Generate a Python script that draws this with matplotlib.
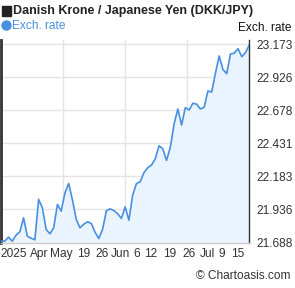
import matplotlib
matplotlib.use('Agg')
import matplotlib.pyplot as plt
import matplotlib.patches as mpatches
import numpy as np

plt.rcParams['font.family'] = ['Liberation Sans', 'DejaVu Sans']

# DKK/JPY daily closes, ~3 months
rates = [21.698, 21.698, 21.728, 21.698, 21.743, 21.768, 21.873, 21.735, 21.720, 21.708,
         22.011, 21.948, 21.786, 21.753, 21.798, 21.973, 21.923, 22.060, 22.130, 22.005,
         21.861, 21.798, 21.825, 21.843, 21.831, 21.765, 21.718, 21.786, 21.925, 21.940,
         21.927, 21.904, 21.868, 21.955, 21.855, 22.043, 22.129, 22.143, 22.212, 22.248,
         22.268, 22.315, 22.413, 22.389, 22.303, 22.399, 22.575, 22.688, 22.568, 22.699,
         22.680, 22.731, 22.724, 22.688, 22.701, 22.823, 22.815, 22.956, 23.085, 22.983,
         22.953, 23.100, 23.106, 23.140, 23.080, 23.110, 23.168]
days = np.arange(len(rates))

ytick_vals = [21.688, 21.936, 22.183, 22.431, 22.678, 22.926, 23.173]
xtick_pos = [3.5, 10.15, 15.9, 22.0, 26.85, 31.7, 35.97, 39.7, 44.85, 49.9, 54.9, 58.7, 62.9]
xtick_labels = ['2025', 'Apr', 'May', '19', '26', 'Jun', '6', '12', '19', '26', 'Jul', '9', '15']

W, H = 295, 288
fig = plt.figure(figsize=(W / 100, H / 100), dpi=100)
ax = fig.add_axes([1 / W, 1 - 242.5 / H, 248.3 / W, 202.5 / H])

blue = '#4a90e2'
ax.fill_between(days, rates, 21.0, color='#eaf4fe', zorder=1)
ax.plot(days, rates, color=blue, lw=1.2, zorder=3)

ax.set_xlim(0, len(rates) - 1)
ax.set_ylim(21.688, 23.205)

ax.set_yticks(ytick_vals)
ax.set_yticklabels(['%.3f' % v for v in ytick_vals])
ax.yaxis.tick_right()
ax.set_xticks(xtick_pos)
ax.set_xticklabels(xtick_labels)
ax.tick_params(axis='both', length=0, labelsize=8.6, colors='#333333')
ax.tick_params(axis='y', pad=5)
ax.tick_params(axis='x', pad=4)
for lbl in ax.get_yticklabels():
    lbl.set_horizontalalignment('left')

# grid
for v in ytick_vals:
    ax.axhline(v, color='#e4e4e4', lw=1, zorder=0)
for g in [16.5, 33, 49.5]:
    ax.axvline(g, color='#e4e4e4', lw=1, zorder=0)

ax.spines['top'].set_visible(False)
ax.spines['left'].set_color('#333333')
ax.spines['left'].set_linewidth(2)
ax.spines['right'].set_color('#333333')
ax.spines['right'].set_linewidth(1)
ax.spines['bottom'].set_color('#cccccc')
ax.spines['bottom'].set_linewidth(1)

# header / legend markers
fig.patches.append(mpatches.Rectangle((2 / W, 1 - 16 / H), 9 / W, 10 / H,
                                      transform=fig.transFigure, color='#222222'))
fig.patches.append(mpatches.Ellipse((6.5 / W, 1 - 25.5 / H), 9 / W, 9 / H,
                                    transform=fig.transFigure, color=blue))
fig.text(13 / W, 1 - 11 / H, 'Danish Krone / Japanese Yen (DKK/JPY)', fontsize=9,
         fontweight='bold', color='#222222', va='center', ha='left')
fig.text(12 / W, 1 - 26 / H, 'Exch. rate', fontsize=8.6, color=blue, va='center', ha='left')
fig.text(291 / W, 1 - 28 / H, 'Exch. rate', fontsize=8.6, color='#111111', va='center', ha='right')
fig.text(291 / W, 1 - 276 / H, '\u00a9 Chartoasis.com', fontsize=8.6, color='#333333',
         va='center', ha='right')

fig.savefig('out.png', dpi=100)
